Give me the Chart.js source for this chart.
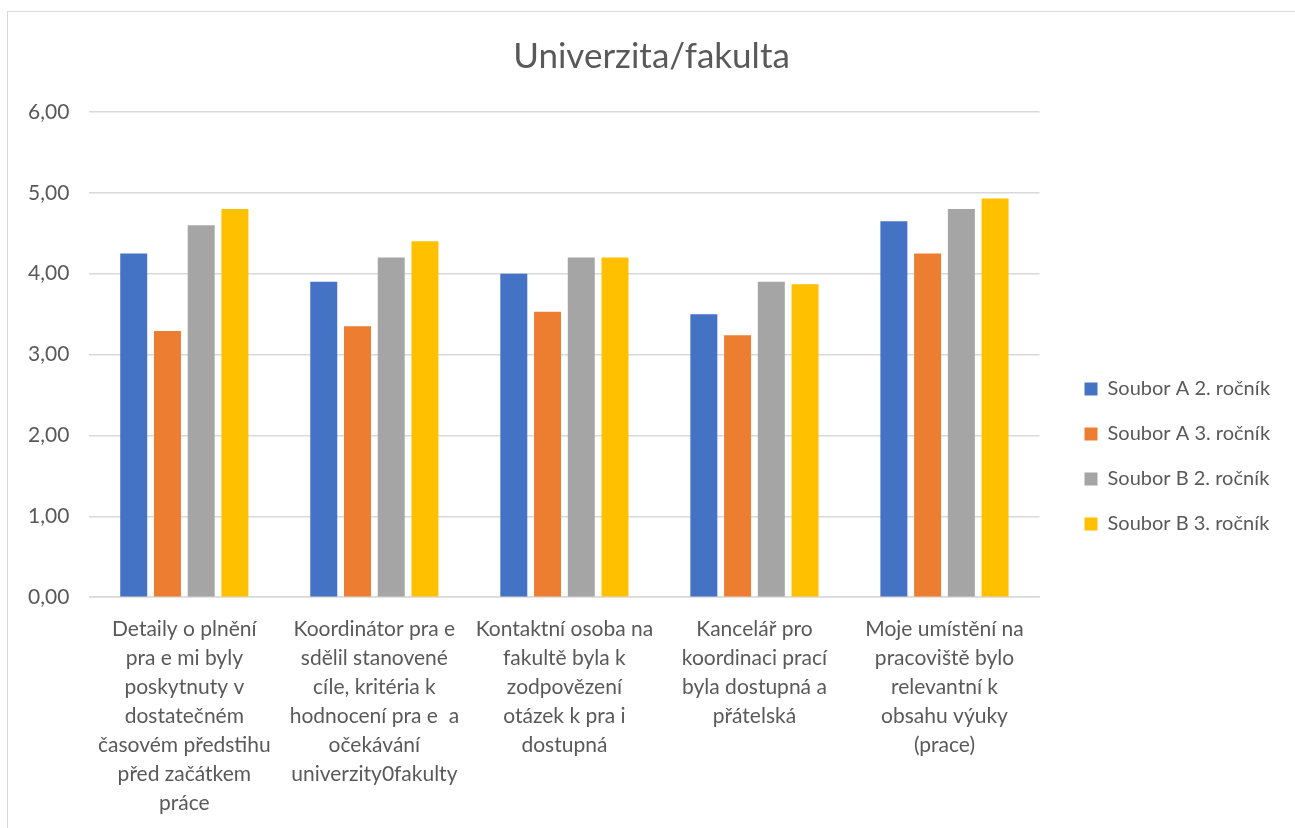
<!DOCTYPE html>
<html>
<head>
<meta charset="utf-8">
<script src="https://cdn.jsdelivr.net/npm/chart.js@4.4.0/dist/chart.umd.min.js"></script>
<style>
  html, body { margin: 0; padding: 0; background: #fff; }
  #frame {
    position: absolute; left: 7px; top: 11px; width: 1287px; height: 816px;
    border-top: 1px solid #d9d9d9; border-left: 1px solid #d9d9d9;
  }
</style>
</head>
<body>
<div id="frame"><canvas id="chartUni"></canvas></div>
<script>
// categories (multi-line, as wrapped in the original)
const categories = [
  ['Detaily o plnění', 'pra e mi byly', 'poskytnuty v', 'dostatečném', 'časovém předstihu', 'před začátkem', 'práce'],
  ['Koordinátor pra e', 'sdělil stanovené', 'cíle, kritéria k', 'hodnocení pra e  a', 'očekávání', 'univerzity0fakulty'],
  ['Kontaktní osoba na', 'fakultě byla k', 'zodpovězení', 'otázek k pra i', 'dostupná'],
  ['Kancelář pro', 'koordinaci prací', 'byla dostupná a', 'přátelská'],
  ['Moje umístění na', 'pracoviště bylo', 'relevantní k', 'obsahu výuky', '(prace)']
];

const seriesNames = ['Soubor A 2. ročník', 'Soubor A 3. ročník', 'Soubor B 2. ročník', 'Soubor B 3. ročník'];
const souborA2 = [4.25, 3.90, 4.00, 3.50, 4.65];
const souborA3 = [3.29, 3.35, 3.53, 3.24, 4.25];
const souborB2 = [4.60, 4.20, 4.20, 3.90, 4.80];
const souborB3 = [4.80, 4.40, 4.20, 3.87, 4.93];

const yTicks = [0, 1, 2, 3, 4, 5, 6];

var colors = ['#4472C4', '#ED7D31', '#A5A5A5', '#FFC000'];
var values = [souborA2, souborA3, souborB2, souborB3];

var fontFamily = 'Lato, "Open Sans", sans-serif';
var textColor = '#595959';

// legend keeps some empty room on its right side, like the original
var legendRoom = {
  id: 'legendRoom',
  beforeLayout: function (chart) {
    var lg = chart.legend;
    if (lg && !lg._roomPatched) {
      var fit = lg.fit;
      lg.fit = function () { fit.call(this); this.width += 21; };
      lg._roomPatched = true;
    }
  }
};

var config = {
  type: 'bar',
  data: {
    labels: categories,
    datasets: values.map(function (v, i) {
      return {
        label: seriesNames[i],
        data: v,
        backgroundColor: colors[i],
        borderWidth: 0,
        barPercentage: 0.8,
        categoryPercentage: 0.71
      };
    })
  },
  options: {
    responsive: true,
    maintainAspectRatio: false,
    animation: false,
    layout: { padding: { left: 0, right: 0, top: 24, bottom: 0 } },
    plugins: {
      title: {
        display: true,
        text: 'Univerzita/fakulta',
        color: textColor,
        font: { family: fontFamily, size: 35, weight: 'normal' },
        padding: { top: 0, bottom: 34 }
      },
      legend: {
        position: 'right',
        align: 'center',
        title: { display: true, text: '', font: { size: 20 }, padding: { top: 25, bottom: 0 } },
        labels: {
          color: textColor,
          font: { family: fontFamily, size: 20 },
          boxWidth: 13,
          boxHeight: 13,
          padding: 25
        }
      },
      tooltip: { enabled: false }
    },
    scales: {
      x: {
        grid: { display: false },
        border: { color: '#d9d9d9', width: 1.5 },
        ticks: {
          color: textColor,
          font: { family: fontFamily, size: 21, lineHeight: 1.38 },
          maxRotation: 0,
          autoSkip: false,
          padding: 10
        }
      },
      y: {
        min: 0,
        max: 6,
        afterBuildTicks: function (axis) {
          axis.ticks = yTicks.map(function (t) { return { value: t }; });
        },
        grid: { color: '#d9d9d9', lineWidth: 1.5, drawTicks: false },
        border: { display: false },
        ticks: {
          color: textColor,
          font: { family: fontFamily, size: 21 },
          padding: 20,
          callback: function (v) { return v.toFixed(2).replace('.', ','); }
        }
      },
      // empty spacer between the plot and the legend
      gap: {
        type: 'linear',
        position: 'right',
        display: true,
        grid: { display: false },
        border: { display: false },
        ticks: { display: false },
        afterFit: function (s) { s.width = 20; }
      }
    }
  },
  plugins: [legendRoom]
};

var ctx = document.getElementById('chartUni').getContext('2d');
window.myBar = new Chart(ctx, config);
</script>
</body>
</html>
